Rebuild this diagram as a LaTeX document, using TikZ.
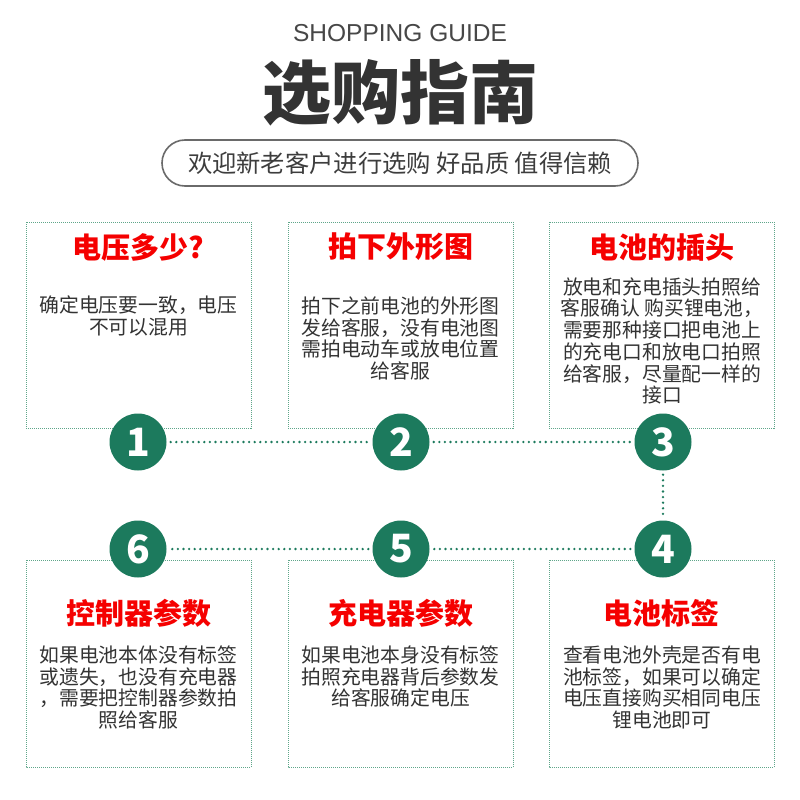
\documentclass[tikz,border=0pt]{standalone}
\usepackage{fontspec}
\setmainfont{Liberation Sans}
\newfontfamily\cjk{Noto Sans CJK SC}
\newfontfamily\latinsans{Liberation Sans}
\definecolor{gborder}{HTML}{5FA68A}
\definecolor{gfill}{HTML}{1C7A5D}
\definecolor{txt}{HTML}{333333}
\definecolor{redt}{HTML}{F50000}
\definecolor{capsule}{HTML}{6A6A6A}
\tikzset{
  boxframe/.style={draw=gborder, line width=0.9pt, dash pattern=on 1pt off 1pt},
  numcirc/.style={circle, fill=gfill, minimum size=57pt, inner sep=0pt, text=white, font=\cjk\bfseries\fontsize{39}{39}\selectfont},
  conn/.style={draw=gfill, line width=2.6pt, line cap=round, dash pattern=on 0pt off 5.6pt, shorten <=4pt, shorten >=4pt},
  boxtitle/.style={text=redt, font=\cjk\bfseries\fontsize{29}{29}\selectfont, inner sep=0pt},
  boxbody/.style={text=txt, align=center, inner sep=0pt, font=\cjk\fontsize{19.8}{21.7}\selectfont},
}
\begin{document}
\begin{tikzpicture}[x=1pt,y=-1pt]
\useasboundingbox (0,0) rectangle (800,800);
\fill[white] (0,0) rectangle (800,800);

% header
\node[text=txt!90, font=\latinsans\fontsize{24.5}{24.5}\selectfont, inner sep=0pt] (eng) at (400,33) {SHOPPING GUIDE};
\node[text=txt, font=\cjk\bfseries\fontsize{69}{69}\selectfont, inner sep=0pt] (ttl) at (400,93) {选购指南};
\draw[capsule, line width=1.6pt, rounded corners=23pt] (162,140) rectangle (638,186);
\node[text=txt!95, font=\cjk\fontsize{24.3}{24.3}\selectfont, inner sep=0pt] (sub) at (400,163) {欢迎新老客户进行选购 好品质 值得信赖};

% boxes
\draw[boxframe] (26,222) rectangle (251,428);
\draw[boxframe] (288,222) rectangle (513,428);
\draw[boxframe] (549,222) rectangle (774,428);
\draw[boxframe] (26,560) rectangle (251,767);
\draw[boxframe] (288,560) rectangle (513,767);
\draw[boxframe] (549,560) rectangle (774,767);

% titles
\node[boxtitle] (t1) at (138.5,247) {电压多少?};
\node[boxtitle] (t2) at (400.5,247) {拍下外形图};
\node[boxtitle] (t3) at (661.5,247) {电池的插头};
\node[boxtitle] (t6) at (138.5,613) {控制器参数};
\node[boxtitle] (t5) at (400.5,613) {充电器参数};
\node[boxtitle] (t4) at (661.5,613) {电池标签};

% bodies
\node[boxbody] (b1) at (138.5,316) {确定电压要一致，电压\\不可以混用};
\node[boxbody] (b2) at (400.5,338.5) {拍下之前电池的外形图\\发给客服，没有电池图\\需拍电动车或放电位置\\给客服};
\node[boxbody] (b3) at (662,341) {放电和充电插头拍照给\\客服确认 购买锂电池，\\需要那种接口把电池上\\的充电口和放电口拍照\\给客服，尽量配一样的\\接口};
\node[boxbody] (b6) at (138.5,687.5) {如果电池本体没有标签\\或遗失，也没有充电器\\，需要把控制器参数拍\\照给客服};
\node[boxbody] (b5) at (400.5,676.5) {如果电池本身没有标签\\拍照充电器背后参数发\\给客服确定电压};
\node[boxbody] (b4) at (662,687.5) {查看电池外壳是否有电\\池标签，如果可以确定\\电压直接购买相同电压\\锂电池即可};

% number circles
\node[numcirc] (c1) at (138,442) {1};
\node[numcirc] (c2) at (401,442) {2};
\node[numcirc] (c3) at (663,442) {3};
\node[numcirc] (c4) at (663,549) {4};
\node[numcirc] (c5) at (401,549) {5};
\node[numcirc] (c6) at (138,549) {6};

% connectors
\draw[conn] (c1) -- (c2);
\draw[conn] (c2) -- (c3);
\draw[conn] (c3) -- (c4);
\draw[conn] (c4) -- (c5);
\draw[conn] (c5) -- (c6);
\end{tikzpicture}
\end{document}
